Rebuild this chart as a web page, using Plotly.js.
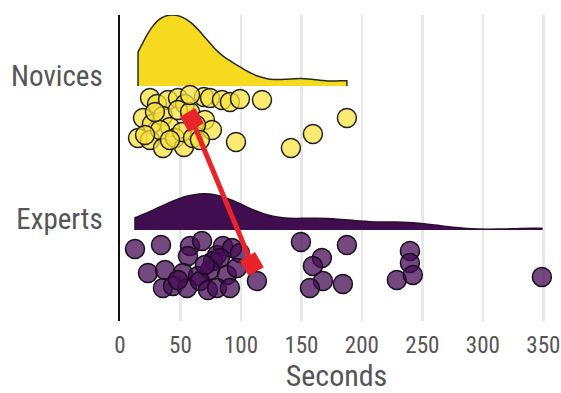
<!DOCTYPE html>
<html>
<head>
<meta charset="utf-8">
<script src="https://cdn.plot.ly/plotly-3.0.1.min.js"></script>
<style>html,body{margin:0;padding:0;background:#fff;}#chart{width:561px;height:393px;}</style>
</head>
<body>
<div id="chart"></div>
<script>
// Categories and their vertical positions
var groups = ["Novices", "Experts"];
var groupBase = [2.35, 0.91];       // density baseline per group
var groupLabelPos = [2.45, 1.02];   // tick label positions

// Seconds per participant
var noviceSeconds = [24.8, 30.6, 39.7, 47.9, 53.7, 69.4, 74.4, 84.3, 90.9, 99.2, 117.4,
  19.0, 26.4, 35.5, 41.3, 47.9, 57.9, 70.2, 76.0, 62.8,
  14.9, 24.8, 33.1, 35.5, 45.5, 52.9, 51.2, 60.3, 66.1, 95.9,
  141.3, 159.5, 187.6, 20.7, 41.3, 28.9, 57.9];
var noviceJitterY = [2.23, 2.17, 2.21, 2.23, 2.17, 2.24, 2.23, 2.21, 2.19, 2.22, 2.21,
  2.03, 1.97, 2.05, 1.94, 2.11, 2.09, 2.01, 1.91, 1.96,
  1.83, 1.81, 1.91, 1.73, 1.83, 1.74, 1.89, 1.83, 1.81, 1.79,
  1.73, 1.87, 2.03, 1.86, 1.81, 2.09, 2.26];

var expertSeconds = [12.4, 33.9, 57.9, 67.8, 56.2, 80.2, 85.1, 92.6, 99.2, 76.9, 82.6,
  23.1, 37.2, 52.1, 64.5, 74.4, 88.4, 96.7, 35.5, 43.8, 55.4, 66.1, 72.7, 80.2, 90.9,
  113.2, 149.6, 187.6, 166.9, 159.5, 167.8, 157.0, 184.3, 239.7, 239.7, 228.9, 242.1,
  348.8, 70.2, 47.9];
var expertJitterY = [0.72, 0.76, 0.75, 0.80, 0.65, 0.66, 0.75, 0.73, 0.68, 0.60, 0.63,
  0.48, 0.51, 0.48, 0.45, 0.51, 0.46, 0.53, 0.33, 0.35, 0.33, 0.40, 0.31, 0.33, 0.33,
  0.40, 0.79, 0.76, 0.63, 0.55, 0.40, 0.33, 0.37, 0.70, 0.58, 0.41, 0.46,
  0.44, 0.56, 0.41];

// Group means (red diamonds)
var meanSeconds = [59.5, 109];
var meanY = [2.01, 0.57];

var xTicks = [0, 50, 100, 150, 200, 250, 300, 350];

var FONT = "'Roboto Condensed', 'Liberation Sans Narrow', Roboto, sans-serif";

var traces = [
  {
    type: 'violin', orientation: 'h', x: noviceSeconds, y0: groupBase[0],
    side: 'positive', spanmode: 'hard', bandwidth: 12, width: 1.42,
    points: false, fillcolor: '#f5da1f', line: {color: '#2a2a1a', width: 1.5},
    opacity: 1, hoverinfo: 'skip', showlegend: false
  },
  {
    type: 'violin', orientation: 'h', x: expertSeconds, y0: groupBase[1],
    side: 'positive', spanmode: 'hard', bandwidth: 27, width: 0.72,
    points: false, fillcolor: '#3f0d50', line: {color: '#2a1030', width: 1.5},
    opacity: 1, hoverinfo: 'skip', showlegend: false
  },
  {
    type: 'scatter', mode: 'markers', x: noviceSeconds, y: noviceJitterY,
    marker: {size: 19, color: 'rgba(250,226,60,0.72)', line: {color: '#222', width: 1.5}},
    hoverinfo: 'skip', showlegend: false
  },
  {
    type: 'scatter', mode: 'markers', x: expertSeconds, y: expertJitterY,
    marker: {size: 19, color: 'rgba(68,12,84,0.75)', line: {color: '#1a0d1f', width: 1.5}},
    hoverinfo: 'skip', showlegend: false
  },
  {
    type: 'scatter', mode: 'lines+markers', x: meanSeconds, y: meanY,
    line: {color: '#e8232a', width: 5},
    marker: {symbol: 'diamond', size: 19, color: '#e8232a', angle: 15},
    hoverinfo: 'skip', showlegend: false
  }
];

var layout = {
  width: 561, height: 393,
  margin: {l: 120, r: 8, t: 15, b: 72},
  paper_bgcolor: '#ffffff', plot_bgcolor: '#ffffff',
  font: {family: FONT, color: '#555555'},
  showlegend: false,
  xaxis: {
    range: [0, 358], tickvals: xTicks, ticktext: xTicks.map(String),
    showgrid: true, gridcolor: '#e8e8e8', gridwidth: 2.5,
    zeroline: false, showline: false, ticks: '',
    ticklabelstandoff: 8, ticklabeloverflow: 'allow',
    tickfont: {size: 23, color: '#555555', family: FONT},
    title: {text: 'Seconds', font: {size: 30, color: '#555555', family: FONT}, standoff: 10}
  },
  yaxis: {
    type: 'linear', range: [0, 3.06],
    tickvals: groupLabelPos, ticktext: groups,
    showgrid: false, zeroline: false,
    showline: true, linecolor: '#111111', linewidth: 2.5,
    ticks: '', ticklabelstandoff: 9,
    tickfont: {size: 29, color: '#555555', family: FONT}
  }
};

Plotly.newPlot('chart', traces, layout, {staticPlot: true, displayModeBar: false});
</script>
</body>
</html>
